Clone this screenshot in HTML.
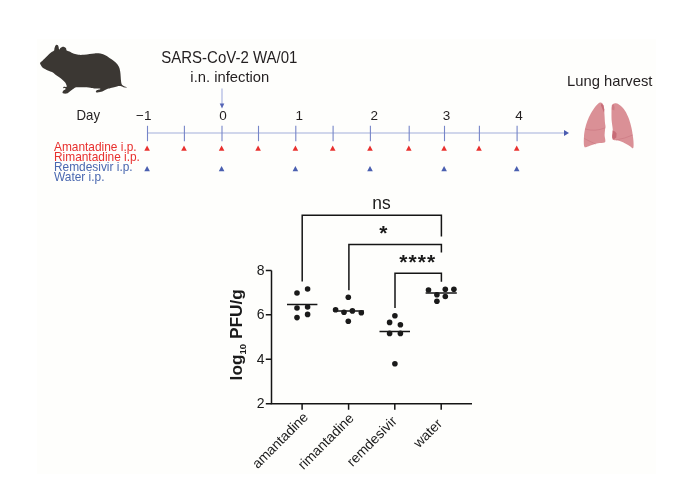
<!DOCTYPE html>
<html><head><meta charset="utf-8">
<style>
html,body{margin:0;padding:0;background:#fff;width:700px;height:500px;overflow:hidden}
svg{display:block;will-change:transform;font-family:"Liberation Sans",sans-serif}
</style></head>
<body>
<svg width="700" height="500" viewBox="0 0 700 500">
<rect x="0" y="0" width="700" height="500" fill="#ffffff"/>
<rect x="37" y="39" width="619" height="435" fill="#fefefc"/>

<!-- hamster -->
<path fill="#3b3733" d="M40.1,63.0 C40.3,62.3 41.3,61.8 42.2,60.9 C43.1,60.0 44.5,58.6 45.7,57.4 C46.9,56.2 48.2,54.8 49.2,53.9 C50.2,53.0 51.2,52.4 52.0,51.8 C52.8,51.2 53.7,50.9 54.1,50.4 C54.5,49.9 54.2,49.3 54.4,48.6 C54.6,47.9 54.8,46.8 55.1,46.2 C55.5,45.6 56.0,45.0 56.5,44.8 C57.0,44.6 57.5,44.9 57.9,45.2 C58.2,45.6 58.4,46.3 58.6,46.9 C58.8,47.5 58.8,48.6 59.0,49.0 C59.2,49.4 59.5,49.6 59.7,49.4 C59.9,49.2 60.0,48.4 60.4,48.0 C60.8,47.6 61.5,47.2 62.1,47.0 C62.7,46.8 63.6,46.8 64.2,47.0 C64.9,47.2 65.6,47.7 66.0,48.3 C66.4,48.9 66.1,49.9 66.7,50.4 C67.3,50.9 68.3,50.9 69.5,51.5 C70.7,52.1 72.5,53.2 74.0,53.8 C75.5,54.3 76.7,54.6 78.4,54.8 C80.1,55.0 82.1,54.9 84.0,54.8 C85.9,54.7 87.8,54.3 89.6,54.1 C91.3,53.9 92.7,53.5 94.5,53.4 C96.3,53.3 98.5,53.3 100.4,53.6 C102.3,53.9 104.0,54.5 105.8,55.4 C107.6,56.3 109.5,57.8 111.2,59.0 C112.9,60.2 114.4,61.3 115.7,62.6 C117.0,63.9 118.2,65.2 118.9,66.7 C119.7,68.2 119.9,69.9 120.2,71.6 C120.5,73.3 120.6,75.3 120.7,77.0 C120.8,78.7 120.9,80.2 121.1,81.5 C121.3,82.8 121.4,83.9 122.0,84.7 C122.6,85.5 123.9,86.0 124.7,86.5 C125.5,87.0 127.2,87.3 127.0,87.4 C126.8,87.5 124.6,87.4 123.5,87.2 C122.4,87.0 121.6,86.2 120.5,86.1 C119.4,86.0 118.2,86.2 117.0,86.4 C115.8,86.6 114.4,87.0 113.0,87.4 C111.6,87.8 109.7,88.2 108.5,88.6 C107.3,89.0 107.0,89.2 106.1,89.6 C105.2,90.0 104.0,90.8 102.9,91.2 C101.9,91.6 100.8,91.8 99.8,92.0 C98.8,92.2 97.2,92.5 96.6,92.4 C95.9,92.3 95.8,91.6 95.9,91.2 C96.0,90.8 96.6,90.4 97.4,90.0 C98.2,89.6 101.1,89.2 100.6,88.9 C100.1,88.7 96.0,88.7 94.3,88.5 C92.6,88.3 92.4,87.9 90.4,87.7 C88.4,87.5 84.9,87.4 82.5,87.3 C80.1,87.2 77.6,87.1 76.2,87.3 C74.8,87.5 74.8,87.9 73.9,88.5 C73.0,89.1 71.8,90.0 70.7,90.8 C69.7,91.6 68.7,92.7 67.6,93.2 C66.5,93.7 64.8,93.7 64.0,93.6 C63.1,93.5 62.6,93.3 62.5,92.8 C62.4,92.3 62.8,91.3 63.3,90.8 C63.8,90.3 64.8,90.0 65.2,89.6 C65.6,89.2 65.9,88.8 65.6,88.5 C65.3,88.2 63.6,88.4 63.3,88.1 C63.0,87.8 63.1,87.1 63.6,86.9 C64.0,86.7 65.5,87.0 66.0,86.9 C66.5,86.8 66.7,86.8 66.8,86.5 C66.9,86.2 66.7,85.6 66.4,84.9 C66.1,84.2 65.8,83.4 65.2,82.6 C64.6,81.8 64.0,81.1 62.9,80.2 C61.8,79.3 60.2,78.1 58.9,77.1 C57.6,76.1 56.4,75.2 55.2,74.4 C54.1,73.6 53.1,72.7 52.0,72.1 C50.9,71.5 49.7,71.2 48.5,70.7 C47.3,70.2 46.0,69.6 45.0,69.0 C44.0,68.4 42.9,67.9 42.2,67.2 C41.5,66.5 41.1,65.8 40.8,65.1 C40.4,64.4 39.9,63.7 40.1,63.0 Z"/>

<!-- title -->
<g fill="#231f20" font-size="14.8">
<text transform="translate(229.3,63.3) scale(1,1.04)" text-anchor="middle" font-size="15">SARS-CoV-2 WA/01</text>
<text transform="translate(229.8,81.6) scale(1,1.05)" text-anchor="middle">i.n. infection</text>
<text transform="translate(609.7,85.6) scale(1,1.04)" text-anchor="middle" font-size="14.8">Lung harvest</text>
<text transform="translate(88.3,119.9) scale(1,1.06)" text-anchor="middle" font-size="13.2">Day</text>
</g>
<!-- infection arrow -->
<line x1="222" y1="88.4" x2="222" y2="104" stroke="#a3aede" stroke-width="1.1"/>
<path d="M219.7,103.6 L224.3,103.6 L222,108.5 Z" fill="#5565b6"/>

<!-- timeline -->
<line x1="147.5" y1="133" x2="565" y2="133" stroke="#c0c9e6" stroke-width="1.6"/>
<path d="M564,130 L569,133 L564,136 Z" fill="#4b5cb0"/>
<g stroke="#7685c8" stroke-width="1.1">
<line x1="147.5" y1="125.8" x2="147.5" y2="141.2"/>
<line x1="184.4" y1="125.8" x2="184.4" y2="141.2"/>
<line x1="222" y1="125.8" x2="222" y2="141.2"/>
<line x1="258.5" y1="125.8" x2="258.5" y2="141.2"/>
<line x1="295.8" y1="125.8" x2="295.8" y2="141.2"/>
<line x1="333.1" y1="125.8" x2="333.1" y2="141.2"/>
<line x1="370.4" y1="125.8" x2="370.4" y2="141.2"/>
<line x1="409.2" y1="125.8" x2="409.2" y2="141.2"/>
<line x1="444.5" y1="125.8" x2="444.5" y2="141.2"/>
<line x1="479.4" y1="125.8" x2="479.4" y2="141.2"/>
<line x1="517.1" y1="125.8" x2="517.1" y2="141.2"/>
</g>
<g fill="#231f20" font-size="13.5" text-anchor="middle">
<text x="143.8" y="120.2">−1</text>
<text x="223" y="120.2">0</text>
<text x="299.2" y="120.2">1</text>
<text x="374.3" y="120.2">2</text>
<text x="446.6" y="120.2">3</text>
<text x="519.1" y="120.2">4</text>
</g>
<!-- red triangles -->
<g fill="#e8302e">
<path d="M144.3,150.7 h5.6 l-2.8,-5.2 z"/>
<path d="M181.2,150.7 h5.6 l-2.8,-5.2 z"/>
<path d="M218.8,150.7 h5.6 l-2.8,-5.2 z"/>
<path d="M255.3,150.7 h5.6 l-2.8,-5.2 z"/>
<path d="M292.6,150.7 h5.6 l-2.8,-5.2 z"/>
<path d="M329.9,150.7 h5.6 l-2.8,-5.2 z"/>
<path d="M367.2,150.7 h5.6 l-2.8,-5.2 z"/>
<path d="M406.0,150.7 h5.6 l-2.8,-5.2 z"/>
<path d="M441.3,150.7 h5.6 l-2.8,-5.2 z"/>
<path d="M476.2,150.7 h5.6 l-2.8,-5.2 z"/>
<path d="M513.9,150.7 h5.6 l-2.8,-5.2 z"/>
</g>
<g fill="#4a5fb0">
<path d="M144.3,171.3 h5.6 l-2.8,-5.2 z"/>
<path d="M218.8,171.3 h5.6 l-2.8,-5.2 z"/>
<path d="M292.6,171.3 h5.6 l-2.8,-5.2 z"/>
<path d="M367.2,171.3 h5.6 l-2.8,-5.2 z"/>
<path d="M441.3,171.3 h5.6 l-2.8,-5.2 z"/>
<path d="M513.9,171.3 h5.6 l-2.8,-5.2 z"/>
</g>
<!-- legend -->
<g font-size="11.9">
<text x="54" y="150.8" fill="#e8302e">Amantadine i.p.</text>
<text x="54" y="160.7" fill="#e8302e">Rimantadine i.p.</text>
<text x="54" y="171.4" fill="#4a68b0">Remdesivir i.p.</text>
<text x="54" y="181.3" fill="#4a68b0">Water i.p.</text>
</g>

<!-- lungs -->
<g>
<path fill="#da9096" d="M600.0,102.5 C600.9,102.3 601.8,102.6 602.5,103.5 C603.2,104.4 603.7,106.1 604.0,108.0 C604.3,109.9 604.3,112.5 604.5,115.0 C604.7,117.5 604.8,121.1 605.0,123.0 C605.2,124.9 605.5,125.3 605.5,126.5 C605.5,127.7 605.1,128.6 605.0,130.0 C604.9,131.4 604.6,133.3 604.6,135.0 C604.6,136.7 605.3,138.8 605.3,140.0 C605.3,141.2 605.7,141.9 604.5,142.5 C603.3,143.1 600.1,142.9 598.0,143.3 C595.9,143.7 594.0,144.3 592.0,145.0 C590.0,145.7 587.3,146.9 586.0,147.2 C584.7,147.4 584.7,147.4 584.3,146.5 C583.9,145.6 583.8,144.2 583.8,142.0 C583.8,139.8 583.9,135.8 584.3,133.0 C584.7,130.2 585.2,127.7 586.0,125.0 C586.8,122.3 587.8,119.5 589.0,117.0 C590.2,114.5 591.7,112.0 593.0,110.0 C594.3,108.0 595.8,106.0 597.0,104.8 C598.2,103.5 599.1,102.7 600.0,102.5 Z"/>
<path fill="#da9096" d="M613.0,104.0 C613.7,103.5 614.8,103.1 616.0,103.3 C617.2,103.5 618.5,104.0 620.0,105.3 C621.5,106.5 623.5,108.5 625.0,110.8 C626.5,113.1 627.9,116.1 629.0,119.0 C630.1,121.9 630.8,125.0 631.5,128.0 C632.2,131.0 632.6,134.3 633.0,137.0 C633.4,139.7 633.6,142.1 633.6,144.0 C633.6,145.9 633.6,147.9 633.0,148.3 C632.4,148.7 631.7,147.2 630.0,146.2 C628.3,145.2 625.2,143.3 623.0,142.3 C620.8,141.3 618.7,140.7 617.0,140.3 C615.3,139.9 613.8,140.5 613.0,139.8 C612.2,139.1 612.0,137.6 612.0,136.0 C612.0,134.4 612.9,132.7 612.8,130.0 C612.7,127.3 611.8,123.3 611.6,120.0 C611.4,116.7 611.5,112.3 611.5,110.0 C611.5,107.7 611.5,107.0 611.8,106.0 C612.0,105.0 612.3,104.5 613.0,104.0 Z"/>
<path fill="#c76c77" d="M601.3,103.6 L603.4,105.6 L604.3,109.5 L604,112.5 L602.4,109 L601,105.5 Z"/>
<path fill="#c76c77" d="M612.6,130.6 L615,131.4 L616.6,133.6 L616.3,137.4 L613.6,139.6 L612.3,137.2 L612.6,133.2 Z"/>
<path fill="#d07c85" d="M612.1,105.6 L613.4,104.1 L614.6,107 L614.3,110.5 L611.9,109.5 Z"/>
<g fill="none" stroke="#c9767f" stroke-width="0.6">
<path d="M585,129 Q595,132 605.2,127.8"/>
<path d="M584.3,138.5 Q590,141.5 595.5,144"/>
<path d="M616,140 Q625,138.5 632.8,135"/>
</g>
</g>

<!-- plot -->
<g stroke="#151515" stroke-width="1.5" fill="none">
<path d="M271.5,270.4 V403.8 H472"/>
<path d="M265.8,270.4 H271.5 M265.8,314.8 H271.5 M265.8,359.2 H271.5 M265.8,403.8 H271.5"/>
<path d="M302.1,404 V409.7 M348.6,404 V409.7 M394.8,404 V409.7 M441.2,404 V409.7"/>
<!-- brackets -->
<path d="M302.2,281.4 V215.3 H441.4 V236.4"/>
<path d="M348.9,290.2 V244.5 H441.4 V252.4"/>
<path d="M395,308.1 V273.3 H441.4 V281.8"/>
<!-- medians -->
<path d="M287,304.4 H317.4 M333.2,310.9 H363.9 M379.5,331.5 H410 M425.6,293.1 H456.8"/>
</g>
<g fill="#1a1a1a" font-size="14" text-anchor="end">
<text x="264.6" y="274.8">8</text>
<text x="264.6" y="319.4">6</text>
<text x="264.6" y="363.8">4</text>
<text x="264.6" y="408.4">2</text>
</g>
<g fill="#1a1a1a">
<circle cx="297" cy="293" r="2.8"/>
<circle cx="307.6" cy="289" r="2.8"/>
<circle cx="297" cy="308" r="2.8"/>
<circle cx="307.6" cy="307" r="2.8"/>
<circle cx="297" cy="317.6" r="2.8"/>
<circle cx="307.6" cy="314.4" r="2.8"/>

<circle cx="348.3" cy="297.2" r="2.8"/>
<circle cx="335.6" cy="309.7" r="2.8"/>
<circle cx="344" cy="312.3" r="2.8"/>
<circle cx="352.4" cy="310.9" r="2.8"/>
<circle cx="361.3" cy="312.8" r="2.8"/>
<circle cx="348.3" cy="321.2" r="2.8"/>

<circle cx="394.9" cy="315.7" r="2.8"/>
<circle cx="389.6" cy="322.4" r="2.8"/>
<circle cx="400.4" cy="324.8" r="2.8"/>
<circle cx="389.6" cy="333.4" r="2.8"/>
<circle cx="400.4" cy="333.4" r="2.8"/>
<circle cx="394.9" cy="363.8" r="2.8"/>

<circle cx="428.5" cy="290" r="2.8"/>
<circle cx="445.3" cy="289.3" r="2.8"/>
<circle cx="453.9" cy="289.3" r="2.8"/>
<circle cx="436.9" cy="294.8" r="2.8"/>
<circle cx="445.3" cy="296.5" r="2.8"/>
<circle cx="436.9" cy="301.3" r="2.8"/>
</g>
<!-- significance -->
<g fill="#1a1a1a" text-anchor="middle">
<text transform="translate(381.5,208.7) scale(1,1.02)" font-size="17.4">ns</text>
<text x="383.4" y="240.2" font-size="21" font-weight="bold">*</text>
<text x="417.7" y="269.2" font-size="21" font-weight="bold" letter-spacing="1.1">****</text>
</g>
<!-- y title -->
<text transform="translate(241.6,380.4) rotate(-90)" fill="#1a1a1a" font-size="17.3" font-weight="bold">log<tspan font-size="9.5" dy="4.6">10</tspan><tspan dy="-4.6"> PFU/g</tspan></text>
<!-- x labels -->
<g fill="#1a1a1a" font-size="13.9" text-anchor="end">
<text transform="translate(309,418) rotate(-45)">amantadine</text>
<text transform="translate(354.8,419) rotate(-45)">rimantadine</text>
<text transform="translate(397.7,422) rotate(-45)">remdesivir</text>
<text transform="translate(443,424.5) rotate(-45)">water</text>
</g>
</svg>
</body></html>
